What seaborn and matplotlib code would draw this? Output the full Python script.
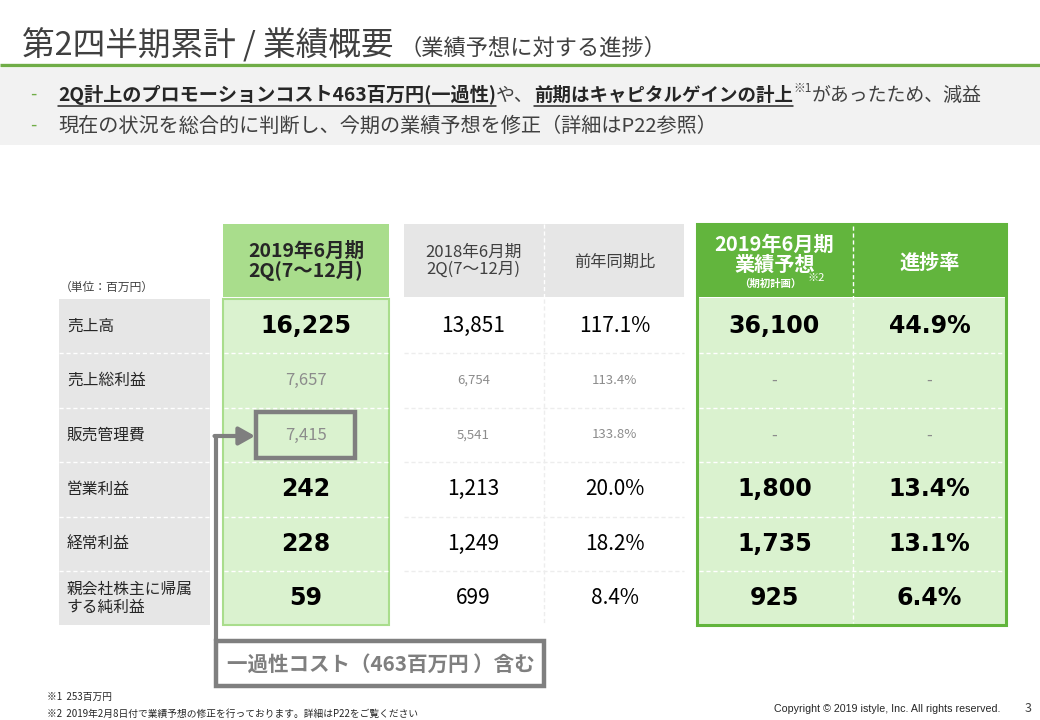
import matplotlib
matplotlib.use("Agg")
import matplotlib.pyplot as plt
import seaborn as sns
from matplotlib.patches import Rectangle

# ---------------- data ----------------
row_labels = ["売上高", "売上総利益", "販売管理費", "営業利益", "経常利益", "親会社株主に帰属\nする純利益"]
cur_2q = [16225, 7657, 7415, 242, 228, 59]
prev_2q = [13851, 6754, 5541, 1213, 1249, 699]
yoy_pct = [117.1, 113.4, 133.8, 20.0, 18.2, 8.4]
forecast = [36100, None, None, 1800, 1735, 925]
progress_pct = [44.9, None, None, 13.4, 13.1, 6.4]
minor_rows = [1, 2]  # rows shown in small grey type

title_main = "第2四半期累計 / 業績概要"
title_sub = "（業績予想に対する進捗）"
bullet1 = [("2Q計上のプロモーションコスト463百万円(一過性)", True), ("や、", False),
           ("前期はキャピタルゲインの計上", True), ("※1", "sup"), ("があったため、減益", False)]
bullet2 = "現在の状況を総合的に判断し、今期の業績予想を修正（詳細はP22参照）"
unit_label = "（単位：百万円）"
callout = "一過性コスト（463百万円 ）含む"
notes = ["※1  253百万円", "※2  2019年2月8日付で業績予想の修正を行っております。詳細はP22をご覧ください"]
copyright_txt = "Copyright © 2019 istyle, Inc. All rights reserved."
page_no = "3"

# ---------------- style ----------------
sns.set_theme(style="white")
JP = ["Noto Sans CJK JP", "DejaVu Sans"]
NUM = ["DejaVu Sans", "Noto Sans CJK JP"]
plt.rcParams["font.family"] = JP

GREEN = "#62B53D"
LGREEN = "#A9DD8C"
PGREEN = "#DAF2CF"
GREY = "#E6E6E6"
TXT = "#404040"

fig = plt.figure(figsize=(10.4, 7.2), dpi=100)
ax = fig.add_axes([0, 0, 1, 1])
ax.set_xlim(0, 1040)
ax.set_ylim(720, 0)
ax.axis("off")

# ---------------- header ----------------
t = ax.text(22, 45, title_main, fontsize=23.5, color=TXT, va="center", ha="left")
fig.canvas.draw()
r = fig.canvas.get_renderer()
inv = ax.transData.inverted()
def right_edge(txt):
    bb = txt.get_window_extent(renderer=r)
    return inv.transform((bb.x1, bb.y0))[0]
x_end = right_edge(t)
ax.text(x_end + 6, 48, title_sub, fontsize=16, color=TXT, va="center", ha="left")
ax.plot([0, 1040], [64.5, 64.5], color="#70AD47", lw=2.4, solid_capstyle="butt")
ax.add_patch(Rectangle((0, 68), 1040, 77, color="#F2F2F2", lw=0))

ax.text(30, 95, "-", fontsize=13, color="#70AD47", va="center")
ax.text(30, 126, "-", fontsize=13, color="#70AD47", va="center")
x = 58
bold_sizes = [13.8, 13.3]
bi = 0
for seg, kind in bullet1:
    if kind == "sup":
        tt = ax.text(x + 1, 89, seg, fontsize=8.5, color=TXT, va="center", ha="left")
    elif kind:
        tt = ax.text(x, 95, seg, fontsize=bold_sizes[bi], color="#262626", weight="bold",
                     va="center", ha="left")
        bi += 1
    else:
        tt = ax.text(x, 95, seg, fontsize=13.6, color=TXT, va="center", ha="left")
    x1 = right_edge(tt)
    if kind is True:
        ax.plot([x, x1], [106, 106], color="#262626", lw=1.1)
    x = x1
ax.text(58, 126, bullet2, fontsize=14.5, color=TXT, va="center", ha="left")

# ---------------- table ----------------
row_top = 299
row_h = 54.4
n = len(row_labels)
row_c = [row_top + row_h * (i + 0.5) for i in range(n)]
bottom = row_top + row_h * n
hdr_top, hdr_bot = 224, 297

ax.text(60, 287, unit_label, fontsize=8.5, color=TXT, va="center")

# label column
for i, lab in enumerate(row_labels):
    ax.add_patch(Rectangle((59, row_top + row_h * i), 151, row_h, color=GREY, lw=0))
    ax.text(67, row_c[i], lab, fontsize=11.3, color="#262626", va="center", ha="left",
            linespacing=1.05)

# column 1: current 2Q
c1x0, c1x1 = 223, 389
ax.add_patch(Rectangle((c1x0, hdr_top), c1x1 - c1x0, hdr_bot - hdr_top, color=LGREEN, lw=0))
ax.add_patch(Rectangle((c1x0, row_top), c1x1 - c1x0, bottom - row_top, facecolor=PGREEN,
                       edgecolor=LGREEN, lw=1.5))
ax.text((c1x0 + c1x1) / 2, 261, "2019年6月期\n2Q(7～12月)", fontsize=14, weight="bold",
        color="#262626", ha="center", va="center", linespacing=1.0)

# column 2/3 headers
c2x0, c2x1 = 404, 543
c3x0, c3x1 = 545, 684
ax.add_patch(Rectangle((c2x0, hdr_top), c3x1 - c2x0, hdr_bot - hdr_top, color=GREY, lw=0))
ax.plot([544, 544], [hdr_top, hdr_bot], color="white", lw=1, ls=(0, (3, 2)))
ax.text((c2x0 + c2x1) / 2, 261, "2018年6月期\n2Q(7～12月)", fontsize=12, color=TXT,
        ha="center", va="center", linespacing=1.0)
ax.text((c3x0 + c3x1) / 2, 262, "前年同期比", fontsize=11.7, color=TXT, ha="center", va="center")
ax.plot([544, 544], [row_top, bottom], color="#EDEDED", lw=1, ls=(0, (3, 2)))

# columns 4/5: forecast
c4x0, c4x1 = 697, 852
c5x0, c5x1 = 853, 1006
ax.add_patch(Rectangle((c4x0, hdr_top), c5x1 - c4x0, hdr_bot - hdr_top, color=GREEN, lw=0))
ax.add_patch(Rectangle((c4x0, row_top - 1), c5x1 - c4x0, bottom - row_top + 1, color=PGREEN, lw=0))
ax.add_patch(Rectangle((c4x0, hdr_top), c5x1 - c4x0, bottom - hdr_top, fill=False,
                       edgecolor=GREEN, lw=2.2))
ax.plot([852.5, 852.5], [hdr_top + 2, bottom - 2], color="white", lw=1, ls=(0, (3, 2)))
ax.text((c4x0 + c4x1) / 2, 254, "2019年6月期\n業績予想", fontsize=14.5, weight="bold",
        color="white", ha="center", va="center", linespacing=0.95)
ax.text((c4x0 + c4x1) / 2 - 4, 284, "（期初計画）", fontsize=7.5, weight="bold", color="white",
        ha="center", va="center")
ax.text(816, 278, "※2", fontsize=8, color="white", ha="center", va="center")
ax.text((c5x0 + c5x1) / 2, 262, "進捗率", fontsize=14.5, weight="bold", color="white",
        ha="center", va="center")

# row separators
for i in range(1, n):
    yy = row_top + row_h * i
    ax.plot([59, 210], [yy, yy], color="white", lw=1, ls=(0, (3, 2)))
    ax.plot([c1x0 + 1, c1x1 - 1], [yy, yy], color="white", lw=1, ls=(0, (3, 2)))
    ax.plot([c2x0, c3x1], [yy, yy], color="#EDEDED", lw=1, ls=(0, (3, 2)))
    ax.plot([c4x0 + 2, c5x1 - 2], [yy, yy], color="white", lw=1, ls=(0, (3, 2)))

def fmt_num(v):
    return "-" if v is None else f"{v:,}"
def fmt_pct(v):
    return "-" if v is None else f"{v:.1f}%"

for i in range(n):
    y = row_c[i]
    minor = i in minor_rows
    if minor:
        ax.text((c1x0 + c1x1) / 2, y, fmt_num(cur_2q[i]), fontsize=12, color="#8C8C8C",
                ha="center", va="center")
        ax.text((c2x0 + c2x1) / 2, y, fmt_num(prev_2q[i]), fontsize=9.5, color="#8C8C8C",
                ha="center", va="center")
        ax.text((c3x0 + c3x1) / 2, y, fmt_pct(yoy_pct[i]), fontsize=9.5, color="#8C8C8C",
                ha="center", va="center")
        ax.text((c4x0 + c4x1) / 2, y, fmt_num(forecast[i]), fontsize=12, color="#8C8C8C",
                ha="center", va="center")
        ax.text((c5x0 + c5x1) / 2, y, fmt_pct(progress_pct[i]), fontsize=12, color="#8C8C8C",
                ha="center", va="center")
    else:
        ax.text((c1x0 + c1x1) / 2, y, fmt_num(cur_2q[i]), fontsize=17, weight="bold",
                family=NUM, color="black", ha="center", va="center")
        ax.text((c2x0 + c2x1) / 2, y, fmt_num(prev_2q[i]), fontsize=15, color="black",
                ha="center", va="center")
        ax.text((c3x0 + c3x1) / 2, y, fmt_pct(yoy_pct[i]), fontsize=15, color="black",
                ha="center", va="center")
        ax.text((c4x0 + c4x1) / 2, y, fmt_num(forecast[i]), fontsize=17, weight="bold",
                family=NUM, color="black", ha="center", va="center")
        ax.text((c5x0 + c5x1) / 2, y, fmt_pct(progress_pct[i]), fontsize=17, weight="bold",
                family=NUM, color="black", ha="center", va="center")

# ---------------- callout ----------------
CG = "#7F7F7F"
ax.add_patch(Rectangle((256, 412), 99, 46, fill=False, edgecolor=CG, lw=3.2))
ax.plot([216, 216], [436, 641], color=CG, lw=3, solid_capstyle="butt")
ax.annotate("", xy=(255, 436), xytext=(214.5, 436),
            arrowprops=dict(arrowstyle="-|>,head_length=0.8,head_width=0.45", color=CG, lw=3,
                            shrinkA=0, shrinkB=0))
ax.add_patch(Rectangle((216, 641), 328, 45, facecolor="white", edgecolor=CG, lw=3.2))
ax.text(381, 664, callout, fontsize=14.8, weight="bold", color=CG, ha="center", va="center")

# ---------------- footer ----------------
ax.text(47, 697, notes[0], fontsize=7, color="#262626", va="center")
ax.text(47, 714, notes[1], fontsize=7, color="#262626", va="center")
ax.text(1000, 709, copyright_txt, fontsize=7.7, family=["Liberation Sans", "DejaVu Sans"],
        color="#262626", ha="right", va="center")
ax.text(1028, 709, page_no, fontsize=9, color="#404040", ha="center", va="center")

fig.savefig("out.png", dpi=100)
